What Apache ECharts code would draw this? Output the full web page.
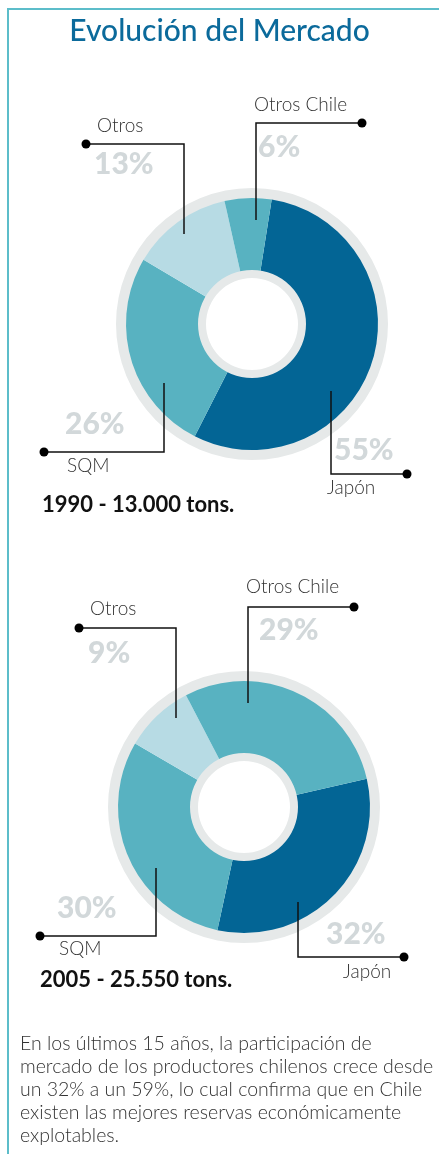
<!DOCTYPE html>
<html>
<head>
<meta charset="utf-8">
<script src="https://cdn.jsdelivr.net/npm/echarts@6/dist/echarts.min.js"></script>
<style>
  html, body { margin: 0; padding: 0; background: #fff; }
  #chart { width: 439px; height: 1154px; }
</style>
</head>
<body>
<div id="chart"></div>
<script>
  // Data
  const categories = ['Japón', 'SQM', 'Otros', 'Otros Chile'];
  const share1990 = [55, 26, 13, 6];
  const share2005 = [32, 30, 9, 29];
  const yearLabels = ['1990 - 13.000 tons.', '2005 - 25.550 tons.'];
  const note = [
    'En los últimos 15 años, la participación de',
    'mercado de los productores chilenos crece desde',
    'un 32% a un 59%, lo cual confirma que en Chile',
    'existen las mejores reservas económicamente',
    'explotables.'
  ];

  const sliceColors = ['#036595', '#58b2c1', '#b7dbe4', '#58b2c1'];
  const ringGrey = '#e6e9e9';
  const pctGrey = '#d2d8da';
  const labelFont = 'Lato, "Open Sans", sans-serif';

  // layout of each donut and its callouts (same order as categories)
  const donuts = [
    {
      values: share1990, center: [252, 324], startAngle: 81, year: yearLabels[0], yearPos: [42, 505],
      callouts: [
        { line: [[407, 474], [331, 474], [331, 391]], label: [327, 488], pct: [334, 450] },
        { line: [[44, 452], [164, 452], [164, 383]], label: [67, 466], pct: [65, 424] },
        { line: [[86, 144], [184, 144], [184, 234]], label: [97, 126], pct: [94, 164] },
        { line: [[362, 123], [256, 123], [256, 220]], label: [254, 105], pct: [258, 147] }
      ]
    },
    {
      values: share2005, center: [244, 807], startAngle: 13, year: yearLabels[1], yearPos: [40, 980],
      callouts: [
        { line: [[404, 957], [298, 957], [298, 902]], label: [343, 972], pct: [326, 934] },
        { line: [[40, 936], [156, 936], [156, 868]], label: [59, 949], pct: [57, 908] },
        { line: [[79, 628], [176, 628], [176, 718]], label: [90, 609], pct: [88, 653] },
        { line: [[354, 607], [248, 607], [248, 703]], label: [246, 587], pct: [259, 630] }
      ]
    }
  ];

  const chart = echarts.init(document.getElementById('chart'));

  const series = [];
  const graphic = [];

  // frame
  graphic.push({
    type: 'polyline',
    shape: { points: [[8, 1154], [8, 9], [439, 9]] },
    style: { stroke: '#5cbdca', lineWidth: 2, fill: null }
  });

  donuts.forEach(function (d) {
    const ring = { type: 'pie', silent: true, center: d.center, label: { show: false },
      labelLine: { show: false }, animation: false };
    series.push(Object.assign({}, ring, { radius: [120, 136], z: 1,
      data: [{ value: 1, itemStyle: { color: ringGrey } }] }));
    series.push({
      type: 'pie',
      center: d.center,
      radius: [52, 126],
      startAngle: d.startAngle,
      clockwise: true,
      silent: true,
      animation: false,
      z: 2,
      label: { show: false },
      labelLine: { show: false },
      data: categories.map(function (c, i) {
        return { name: c, value: d.values[i], itemStyle: { color: sliceColors[i] } };
      })
    });
    series.push(Object.assign({}, ring, { radius: [46, 54], z: 3,
      data: [{ value: 1, itemStyle: { color: ringGrey } }] }));

    d.callouts.forEach(function (c, i) {
      graphic.push({
        type: 'text', z: 5, x: c.pct[0], y: c.pct[1],
        style: { text: d.values[i] + '%', fill: pctGrey, font: '900 30px ' + labelFont,
          verticalAlign: 'middle', align: 'left' }
      });
      graphic.push({
        type: 'polyline', z: 10, shape: { points: c.line },
        style: { stroke: '#111', lineWidth: 1.5, fill: null }
      });
      graphic.push({
        type: 'circle', z: 10, shape: { cx: c.line[0][0], cy: c.line[0][1], r: 4.5 },
        style: { fill: '#000' }
      });
      graphic.push({
        type: 'text', z: 10, x: c.label[0], y: c.label[1],
        style: { text: categories[i], fill: '#333', font: '300 19px ' + labelFont,
          verticalAlign: 'middle', align: 'left' }
      });
    });

    graphic.push({
      type: 'text', z: 10, x: d.yearPos[0], y: d.yearPos[1],
      style: { text: d.year, fill: '#111', font: 'bold 22px ' + labelFont,
        verticalAlign: 'middle', align: 'left' }
    });
  });

  note.forEach(function (line, k) {
    graphic.push({
      type: 'text', x: 20, y: 1044 + k * 23,
      style: { text: line, fill: '#333', font: '300 19.5px ' + labelFont,
        verticalAlign: 'middle', align: 'left' }
    });
  });

  chart.setOption({
    title: {
      text: 'Evolución del Mercado',
      left: 'center',
      top: 11,
      textStyle: { color: '#0b6a9b', fontSize: 30, fontWeight: 500, fontFamily: labelFont }
    },
    series: series,
    graphic: graphic
  });
</script>
</body>
</html>
